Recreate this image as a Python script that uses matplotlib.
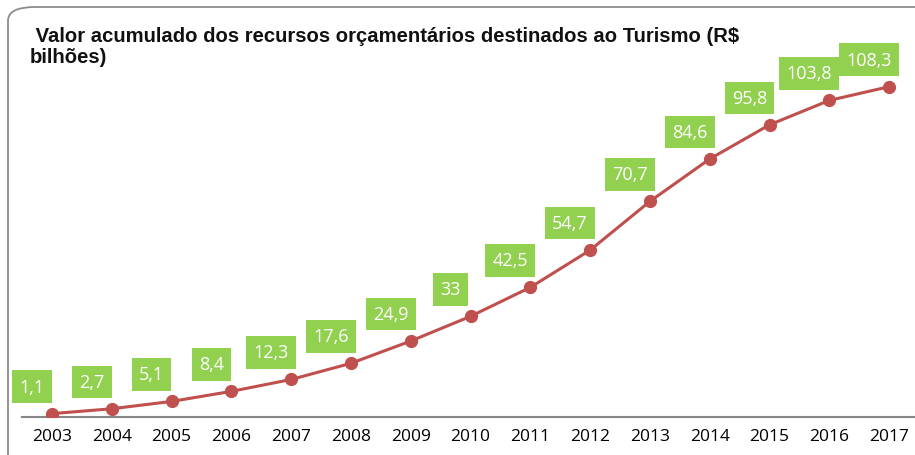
import matplotlib
matplotlib.use("Agg")
import matplotlib.pyplot as plt
from matplotlib.patches import FancyBboxPatch

years = ["2003", "2004", "2005", "2006", "2007", "2008", "2009", "2010",
         "2011", "2012", "2013", "2014", "2015", "2016", "2017"]
values = [1.1, 2.7, 5.1, 8.4, 12.3, 17.6, 24.9, 33,
          42.5, 54.7, 70.7, 84.6, 95.8, 103.8, 108.3]
labels = ["1,1", "2,7", "5,1", "8,4", "12,3", "17,6", "24,9", "33",
          "42,5", "54,7", "70,7", "84,6", "95,8", "103,8", "108,3"]

W, H = 915, 456
fig = plt.figure(figsize=(W / 100, H / 100), dpi=100)

# rounded chart frame, cut off at right and bottom like the screenshot
frame = FancyBboxPatch((8 / W, -30 / H), 960 / W, (H - 8 + 30) / H,
                       boxstyle="round,pad=0,rounding_size=0.03",
                       transform=fig.transFigure, fill=False,
                       edgecolor="#8c8c8c", linewidth=1.3)
fig.patches.append(frame)

fig.text(30 / W, 1 - 47 / H, " Valor acumulado dos recursos orçamentários destinados ao Turismo (R$\nbilhões)",
         fontsize=14.6, fontweight="bold", family="Liberation Sans",
         va="center", ha="left", linespacing=1.12, color="#111111")

ax = fig.add_axes([22 / W, 38 / H, 897 / W, 366 / H])
x = list(range(len(years)))
ax.plot(x, values, color="#C0504D", linewidth=2.2, marker="o",
        markersize=8.5, zorder=3)

for xi, v, lab in zip(x, values, labels):
    ax.annotate(lab, (xi, v), xytext=(-20, 27), textcoords="offset pixels",
                ha="center", va="center", fontsize=13, color="white",
                family="Open Sans",
                bbox=dict(boxstyle="square,pad=0.4", fc="#92D050", ec="none"))

ax.set_xlim(-0.5, len(years) - 0.5)
ax.set_ylim(0, 120)
ax.set_xticks(x)
ax.set_xticklabels(years, fontsize=12.5, family="Open Sans")
ax.set_yticks([])
for s in ["left", "right", "top"]:
    ax.spines[s].set_visible(False)
ax.spines["bottom"].set_color("#868686")
ax.spines["bottom"].set_linewidth(1.5)
ax.tick_params(axis="x", length=0, pad=8)
ax.patch.set_alpha(0)

fig.savefig("out.png", dpi=100)
